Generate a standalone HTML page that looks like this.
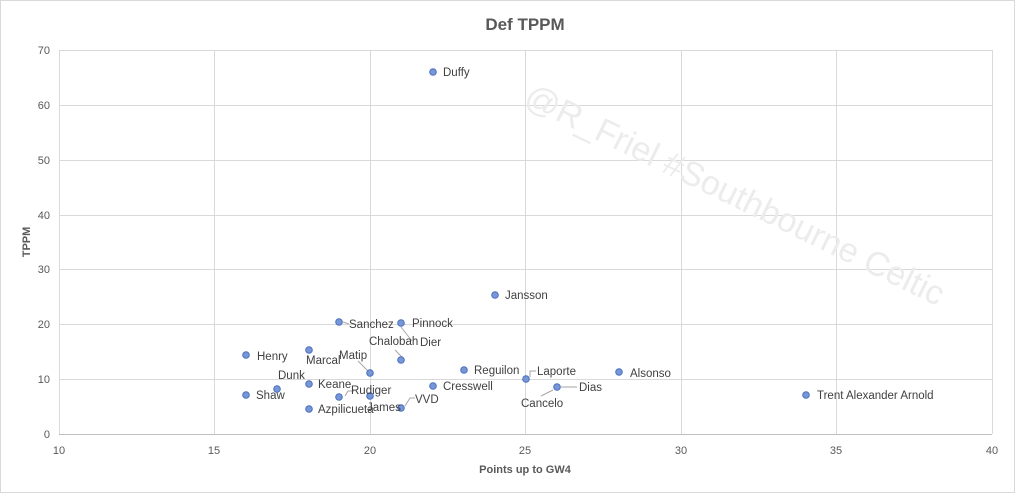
<!DOCTYPE html>
<html><head><meta charset="utf-8"><style>
html,body{margin:0;padding:0;background:#fff;}
svg{display:block;font-family:"Liberation Sans",sans-serif;}
.lab{font-size:11.5px;fill:#404040;}
.pt{fill:#7796d6;stroke:#4a6fc0;stroke-width:1;}
.ld{stroke:#a6a6a6;stroke-width:1;fill:none;}
</style></head><body>
<svg width="1015" height="493" viewBox="0 0 1015 493">
<rect x="0.5" y="0.5" width="1014" height="492" fill="#fff" stroke="#d9d9d9"/>
<text x="525" y="30" text-anchor="middle" font-size="17" font-weight="bold" fill="#595959">Def TPPM</text>
<g stroke="#d9d9d9" stroke-width="1">
<line x1="59" y1="50.5" x2="992" y2="50.5"/>
<line x1="59" y1="105.5" x2="992" y2="105.5"/>
<line x1="59" y1="160.5" x2="992" y2="160.5"/>
<line x1="59" y1="215.5" x2="992" y2="215.5"/>
<line x1="59" y1="269.5" x2="992" y2="269.5"/>
<line x1="59" y1="324.5" x2="992" y2="324.5"/>
<line x1="59" y1="379.5" x2="992" y2="379.5"/>
<line x1="59.5" y1="50" x2="59.5" y2="434"/>
<line x1="214.5" y1="50" x2="214.5" y2="434"/>
<line x1="370.5" y1="50" x2="370.5" y2="434"/>
<line x1="525.5" y1="50" x2="525.5" y2="434"/>
<line x1="681.5" y1="50" x2="681.5" y2="434"/>
<line x1="836.5" y1="50" x2="836.5" y2="434"/>
<line x1="992.5" y1="50" x2="992.5" y2="434"/>
</g>
<line x1="59" y1="434.5" x2="992" y2="434.5" stroke="#bfbfbf"/>
<g font-size="11" fill="#595959" text-anchor="end">
<text x="50" y="438">0</text><text x="50" y="383">10</text><text x="50" y="328">20</text><text x="50" y="273">30</text><text x="50" y="219">40</text><text x="50" y="164">50</text><text x="50" y="109">60</text><text x="50" y="54">70</text>
</g>
<g font-size="11" fill="#595959" text-anchor="middle">
<text x="59" y="454">10</text><text x="214" y="454">15</text><text x="370" y="454">20</text><text x="525" y="454">25</text><text x="681" y="454">30</text><text x="836" y="454">35</text><text x="992" y="454">40</text>
</g>
<text x="525" y="473" text-anchor="middle" font-size="11" font-weight="bold" fill="#595959">Points up to GW4</text>
<text transform="translate(30,242) rotate(-90)" text-anchor="middle" font-size="11" font-weight="bold" fill="#595959">TPPM</text>
<text transform="translate(730,205) rotate(26)" text-anchor="middle" font-size="34" fill="#ececec">@R_Friel #Southbourne Celtic</text>
<g class="ld">
<path d="M343 322 L349 324"/><path d="M401 327 L412 341"/><path d="M395 350 L403 358"/>
<path d="M358 361 L368 371"/><path d="M345 396 L348 391 L354 391"/><path d="M405 406 L410 398 L415 398"/>
<path d="M530 377 L530 371 L536 371"/><path d="M561 387 L577 387"/><path d="M553 390 L541 396"/>
</g>
<g class="pt">
<circle cx="433" cy="72" r="3.3"/><circle cx="495" cy="295" r="3.3"/><circle cx="339" cy="322" r="3.3"/>
<circle cx="401" cy="323" r="3.3"/><circle cx="401" cy="360" r="3.3"/><circle cx="246" cy="355" r="3.3"/>
<circle cx="309" cy="350" r="3.3"/><circle cx="370" cy="373" r="3.3"/><circle cx="464" cy="370" r="3.3"/>
<circle cx="526" cy="379" r="3.3"/><circle cx="619" cy="372" r="3.3"/><circle cx="277" cy="389" r="3.3"/>
<circle cx="309" cy="384" r="3.3"/><circle cx="433" cy="386" r="3.3"/><circle cx="557" cy="387" r="3.3"/>
<circle cx="246" cy="395" r="3.3"/><circle cx="339" cy="397" r="3.3"/><circle cx="370" cy="396" r="3.3"/>
<circle cx="401" cy="408" r="3.3"/><circle cx="309" cy="409" r="3.3"/><circle cx="806" cy="395" r="3.3"/>
</g>
<g class="lab">
<text x="443" y="76">Duffy</text><text x="505" y="299">Jansson</text><text x="349" y="328">Sanchez</text>
<text x="412" y="327">Pinnock</text><text x="420" y="346">Dier</text><text x="369" y="345">Chalobah</text>
<text x="257" y="360">Henry</text><text x="306" y="364">Marcal</text><text x="339" y="359">Matip</text>
<text x="474" y="374">Reguilon</text><text x="537" y="375">Laporte</text><text x="630" y="377">Alsonso</text>
<text x="278" y="379">Dunk</text><text x="318" y="388">Keane</text><text x="443" y="390">Cresswell</text>
<text x="579" y="391">Dias</text><text x="521" y="407">Cancelo</text><text x="256" y="399">Shaw</text>
<text x="351" y="394">Rudiger</text><text x="367" y="411">James</text><text x="415" y="403">VVD</text>
<text x="318" y="413">Azpilicueta</text><text x="817" y="399">Trent Alexander Arnold</text>
</g>
</svg>
</body></html>
